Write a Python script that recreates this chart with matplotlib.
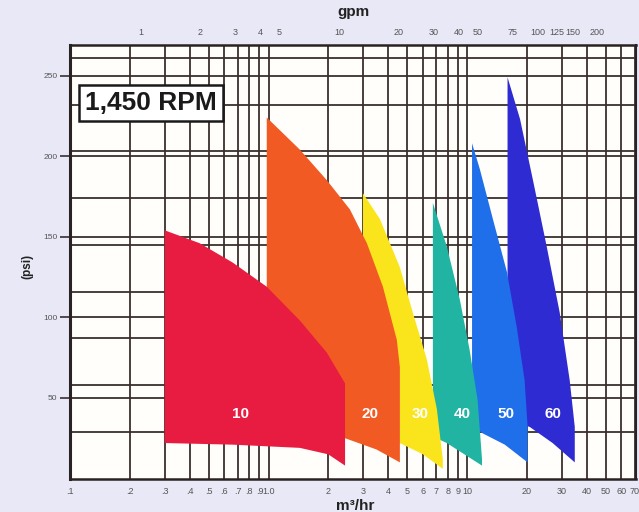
import matplotlib
matplotlib.use("Agg")
import matplotlib.pyplot as plt

plt.rcParams["font.family"] = ["Liberation Sans", "DejaVu Sans"]

GPM_PER_M3H = 4.4029
PSI_PER_BAR = 14.5038

# Pump models and their fill colours
models = ["10", "20", "30", "40", "50", "60"]
colors = ["#e81c40", "#f25a24", "#fae41c", "#22b4a2", "#1f6eea", "#2e2bd2"]

# Operating regions: upper head curve and lower limit, flow in m3/hr, head in psi
top_flow_10 = [0.30, 0.45, 0.66, 0.98, 1.44, 1.97, 2.43]
top_psi_10 = [154, 146, 134, 119, 98, 78, 59]
bot_flow_10 = [0.30, 0.66, 1.44, 2.00, 2.43]
bot_psi_10 = [22, 21, 19, 15, 8]

top_flow_20 = [0.98, 1.44, 1.97, 2.57, 3.13, 3.77, 4.43, 4.59]
top_psi_20 = [224, 204, 185, 167, 146, 119, 86, 69]
bot_flow_20 = [0.98, 2.43, 3.50, 4.59]
bot_psi_20 = [30, 25, 18, 10]

top_flow_30 = [2.99, 3.64, 4.59, 5.33, 6.27, 7.05, 7.55]
top_psi_30 = [177, 161, 131, 103, 74, 43, 12]
bot_flow_30 = [2.99, 4.59, 6.00, 7.55]
bot_psi_30 = [28, 22, 15, 6]

top_flow_40 = [6.73, 7.91, 9.20, 10.3, 11.3, 11.9]
top_psi_40 = [171, 144, 111, 80, 49, 12]
bot_flow_40 = [6.73, 7.91, 11.9]
bot_psi_40 = [26, 22, 8]

top_flow_50 = [10.6, 11.6, 13.5, 15.9, 17.8, 19.5, 20.2, 20.2]
top_psi_50 = [208, 192, 161, 128, 94, 61, 32, 10]
bot_flow_50 = [10.6, 12.0, 15.5, 20.2]
bot_psi_50 = [33, 28, 21, 10]

top_flow_60 = [16.0, 18.5, 21.5, 25.2, 29.3, 32.9, 34.9, 34.9]
top_psi_60 = [249, 223, 185, 144, 103, 61, 32, 10]
bot_flow_60 = [16.0, 20.7, 27.0, 34.9]
bot_psi_60 = [36, 32, 22, 10]

regions = [
    (top_flow_10, top_psi_10, bot_flow_10, bot_psi_10),
    (top_flow_20, top_psi_20, bot_flow_20, bot_psi_20),
    (top_flow_30, top_psi_30, bot_flow_30, bot_psi_30),
    (top_flow_40, top_psi_40, bot_flow_40, bot_psi_40),
    (top_flow_50, top_psi_50, bot_flow_50, bot_psi_50),
    (top_flow_60, top_psi_60, bot_flow_60, bot_psi_60),
]

# Axis ticks
m3h_ticks = [0.1, 0.2, 0.3, 0.4, 0.5, 0.6, 0.7, 0.8, 0.9, 1.0,
             2, 3, 4, 5, 6, 7, 8, 9, 10, 20, 30, 40, 50, 60, 70]
m3h_labels = [".1", ".2", ".3", ".4", ".5", ".6", ".7", ".8", ".9", "1.0",
              "2", "3", "4", "5", "6", "7", "8", "9", "10",
              "20", "30", "40", "50", "60", "70"]
gpm_ticks = [1, 2, 3, 4, 5, 10, 20, 30, 40, 50, 75, 100, 125, 150, 200]
gpm_labels = ["1", "2", "3", "4", "5", "10", "20", "30", "40", "50",
              "75", "100", "125", "150", "200"]
psi_ticks = [50, 100, 150, 200, 250]
bar_lines = [2, 4, 6, 8, 10, 12, 14, 16, 18]

# Layout: where the model names sit (flow, psi)
label_flow = [0.72, 3.24, 5.78, 9.5, 15.7, 27.0]
label_psi = 40

grid_color = "#3a2f2d"

fig = plt.figure(figsize=(6.39, 5.12), dpi=100, facecolor="#e8e8f6")
ax = fig.add_axes([70 / 639, 33.5 / 512, 566 / 639, 433.5 / 512])
ax.set_facecolor("#fffefa")
ax.set_xscale("log")
ax.set_xlim(0.1, 71)
ax.set_ylim(0, 269)

# Grid: flow lines, psi lines and 2-bar lines
for v in m3h_ticks[1:]:
    ax.axvline(v, color=grid_color, lw=1.3, zorder=1)
for p in psi_ticks:
    ax.axhline(p, color=grid_color, lw=1.3, zorder=1)
for b in bar_lines:
    ax.axhline(b * PSI_PER_BAR, color=grid_color, lw=1.3, zorder=1)

# Regions: higher models underneath, lower models on top
n = len(models)
for i in range(n - 1, -1, -1):
    tf, tp, bf, bp = regions[i]
    xs = list(tf) + list(bf[::-1])
    ys = list(tp) + list(bp[::-1])
    ax.fill(xs, ys, color=colors[i], lw=0, zorder=3 + (n - i))

for i, name in enumerate(models):
    ax.text(label_flow[i], label_psi, name, color="white", fontsize=11,
            fontweight="bold", ha="center", va="center", zorder=20)

# Bottom axis (m3/hr)
ax.set_xticks(m3h_ticks)
ax.set_xticklabels(m3h_labels)
ax.xaxis.set_minor_locator(matplotlib.ticker.NullLocator())
ax.tick_params(axis="x", length=0, pad=6, labelsize=6.5, labelcolor="#555555")

# Left axis (psi)
ax.set_yticks(psi_ticks)
ax.set_yticklabels([str(p) for p in psi_ticks])
ax.tick_params(axis="y", length=7, width=1.2, color=grid_color, pad=2,
               labelsize=6, labelcolor="#555555")

# Top axis (gpm)
sec = ax.secondary_xaxis("top", functions=(lambda x: x * GPM_PER_M3H,
                                           lambda g: g / GPM_PER_M3H))
sec.set_xticks(gpm_ticks)
sec.set_xticklabels(gpm_labels)
sec.xaxis.set_minor_locator(matplotlib.ticker.NullLocator())
sec.tick_params(axis="x", length=0, pad=6, labelsize=6.5, labelcolor="#555555")
for s in sec.spines.values():
    s.set_visible(False)

for side, w in [("left", 2.2), ("bottom", 1.8), ("top", 1.8), ("right", 1.5)]:
    ax.spines[side].set_linewidth(w)
    ax.spines[side].set_color("#2a2222")
    ax.spines[side].set_zorder(30)

# Speed box
ax.text(0.027, 0.866, "1,450 RPM", transform=ax.transAxes, fontsize=19,
        fontweight="bold", color="#1a1a1a", ha="left", va="center", zorder=40,
        bbox=dict(boxstyle="square,pad=0.24", facecolor="white",
                  edgecolor="#1a1a1a", linewidth=1.8))

fig.text(353 / 639, 1 - 12 / 512, "gpm", fontsize=11, fontweight="bold",
         ha="center", va="center", color="#222222")
fig.text(355 / 639, 1 - 506 / 512, "m³/hr", fontsize=11, fontweight="bold",
         ha="center", va="center", color="#222222")
fig.text(27 / 639, 1 - 266 / 512, "(psi)", fontsize=8.5, fontweight="bold",
         rotation=90, ha="center", va="center", color="#222222")

fig.savefig("out.png", dpi=100, facecolor=fig.get_facecolor())
